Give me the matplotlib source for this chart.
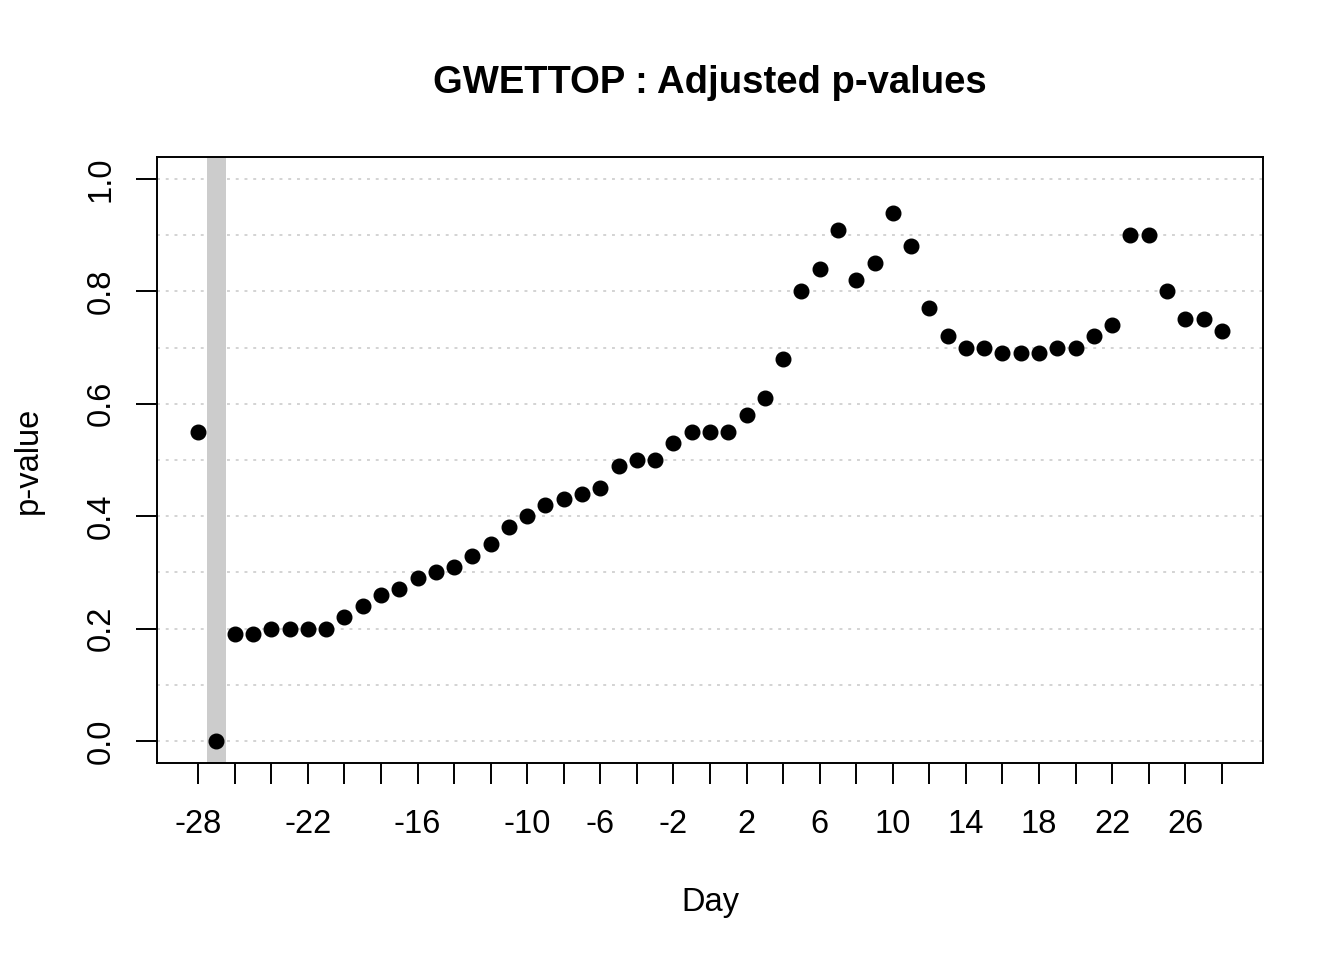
import matplotlib
matplotlib.use("Agg")
import matplotlib.pyplot as plt
import numpy as np

days = list(range(-28, 29))
pvals = [0.55, 0.00, 0.19, 0.19, 0.20, 0.20, 0.20, 0.20, 0.22, 0.24,
         0.26, 0.27, 0.29, 0.30, 0.31, 0.33, 0.35, 0.38, 0.40, 0.42,
         0.43, 0.44, 0.45, 0.49, 0.50, 0.50, 0.53, 0.55, 0.55, 0.55,
         0.58, 0.61, 0.68, 0.80, 0.84, 0.91, 0.82, 0.85, 0.94, 0.88,
         0.77, 0.72, 0.70, 0.70, 0.69, 0.69, 0.69, 0.70, 0.70, 0.72,
         0.74, 0.90, 0.90, 0.80, 0.75, 0.75, 0.73]
highlight_day = -27
xtick_pos = list(range(-28, 29, 2))
xtick_labeled = [-28, -22, -16, -10, -6, -2, 2, 6, 10, 14, 18, 22, 26]
ytick_pos = [0.0, 0.2, 0.4, 0.6, 0.8, 1.0]
ygrid_pos = [0.0, 0.1, 0.2, 0.3, 0.4, 0.5, 0.6, 0.7, 0.8, 0.9, 1.0]

plt.rcParams['font.family'] = ['Liberation Sans', 'DejaVu Sans']

fig = plt.figure(figsize=(13.44, 9.6), dpi=100)
ax = fig.add_axes([157/1344, 1 - 763/960, (1263-157)/1344, (763-157)/960])

ax.set_xlim(-30.25, 30.25)
ax.set_ylim(-0.039, 1.039)

for g in ygrid_pos:
    ax.axhline(g, color='#d3d3d3', linestyle=(0, (1.5, 3)), linewidth=1.4, zorder=1)

ax.axvspan(highlight_day - 0.5, highlight_day + 0.5, color='#cccccc', linewidth=0, zorder=2)

ax.plot(days, pvals, 'o', color='black', markersize=10.5, zorder=3)

ax.set_xticks(xtick_pos)
ax.set_xticklabels([str(t) if t in xtick_labeled else '' for t in xtick_pos])
ax.set_yticks(ytick_pos)
ax.set_yticklabels(['0.0', '0.2', '0.4', '0.6', '0.8', '1.0'], rotation=90, va='center')

ax.tick_params(axis='both', length=15, width=1.4, labelsize=23.5, direction='out')
ax.tick_params(axis='x', pad=18)
ax.tick_params(axis='y', pad=14)
for s in ax.spines.values():
    s.set_linewidth(1.4)

ax.set_title('GWETTOP : Adjusted p-values', fontsize=27.5, fontweight='bold', pad=46)
ax.set_xlabel('Day', fontsize=23.5, labelpad=34)
ax.set_ylabel('p-value', fontsize=23.5, labelpad=30)

fig.savefig('out.png', dpi=100, facecolor='white')
